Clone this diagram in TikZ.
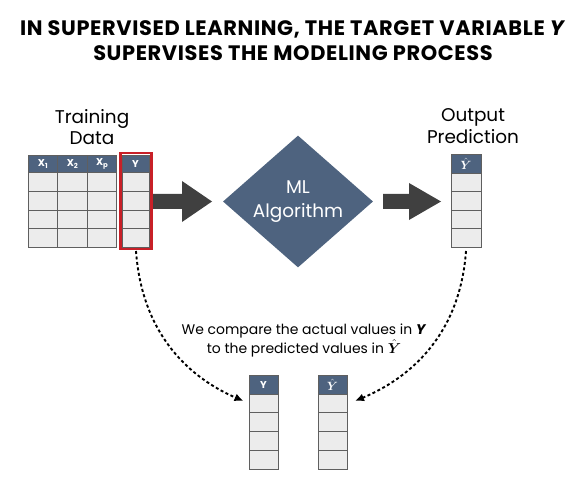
\documentclass[tikz,border=0pt]{standalone}
\usepackage{bm}
\usepackage{fontspec}
\setmainfont{Poppins}
\usetikzlibrary{shapes.geometric,arrows.meta}
\definecolor{headblue}{RGB}{78,99,127}
\definecolor{cellfill}{RGB}{236,236,236}
\definecolor{cellline}{RGB}{95,95,95}
\definecolor{blockarrow}{RGB}{64,64,64}
\definecolor{redbox}{RGB}{200,32,40}
\tikzset{
  cell/.style={draw=cellline, line width=0.8bp, fill=cellfill, inner sep=0, outer sep=0, anchor=north west},
  headcell/.style={cell, fill=headblue, text=white, font=\fontsize{10}{11}\selectfont\bfseries},
  label/.style={align=center, font=\fontsize{18.5}{21.5}\selectfont},
  dashconn/.style={line width=1.9bp, dash pattern=on 3bp off 2.5bp, -{Latex[length=9bp,width=8bp]}},
}
\newcommand{\xs}[1]{X\raisebox{-0.35ex}{\fontsize{7}{8}\selectfont #1}}
\newcommand{\yhead}{\fontsize{13}{14}\selectfont$\bm{\hat{Y}}$}
\begin{document}
\begin{tikzpicture}[x=1bp,y=-1bp]
\useasboundingbox (0,0) rectangle (586,485);
% title
\node[align=center, font=\fontsize{21}{25}\selectfont\bfseries\addfontfeature{LetterSpace=3}] (title) at (293,41)
  {IN SUPERVISED LEARNING, THE TARGET VARIABLE \textit{Y}\\SUPERVISES THE MODELING PROCESS};
% labels
\node[label] (trlab) at (92,127) {Training\\Data};
\node[label] (outlab) at (473,126) {Output\\Prediction};
% training table X columns
\foreach \c/\t [count=\i] in {0/\xs{1},1/\xs{2},2/\xs{p}} {
  \node[headcell, minimum width=29.6bp, minimum height=17.5bp] (tx\i-0) at (28+29.6*\c,155) {\t};
  \foreach \r in {1,...,4}
    \node[cell, minimum width=29.6bp, minimum height=18.75bp] (tx\i-\r) at (28+29.6*\c,172.5+18.75*\r-18.75) {};
}
% training Y column
\node[headcell, minimum width=27bp, minimum height=17.5bp] (ty-0) at (122,155) {Y};
\foreach \r in {1,...,4}
  \node[cell, minimum width=27bp, minimum height=18.75bp] (ty-\r) at (122,172.5+18.75*\r-18.75) {};
\draw[redbox, line width=2.6bp] (120.3,153) rectangle (151.7,248.8);
\coordinate (tyout) at (136,251);
% block arrow 1
\fill[blockarrow] (153,194) -- (182,194) -- (182,181) -- (212,201.5) -- (182,222) -- (182,209) -- (153,209) -- cycle;
% diamond
\node[diamond, fill=headblue, minimum width=150bp, minimum height=121bp, inner sep=0, text=white,
      align=center, font=\fontsize{18.5}{24}\selectfont] (ml) at (298,201.5) {ML\\Algorithm};
% block arrow 2
\fill[blockarrow] (383,194) -- (409,194) -- (409,183) -- (441,201.5) -- (409,220) -- (409,209) -- (383,209) -- cycle;
% output table
\node[headcell, minimum width=30bp, minimum height=18.5bp] (oy-0) at (451,154.5) {\yhead};
\foreach \r in {1,...,4}
  \node[cell, minimum width=30bp, minimum height=18.6bp] (oy-\r) at (451,173+18.6*\r-18.6) {};
\coordinate (oyout) at (466,251);
% bottom tables
\node[headcell, minimum width=29bp, minimum height=19bp] (by-0) at (249,375) {Y};
\foreach \r in {1,...,4}
  \node[cell, minimum width=29bp, minimum height=18.75bp] (by-\r) at (249,394+18.75*\r-18.75) {};
\node[headcell, minimum width=29bp, minimum height=19bp] (bh-0) at (318,375) {\yhead};
\foreach \r in {1,...,4}
  \node[cell, minimum width=29bp, minimum height=18.75bp] (bh-\r) at (318,394+18.75*\r-18.75) {};
\coordinate (byin) at (243.5,401);
\coordinate (bhin) at (355,401);
% caption
\node[align=center, font=\fontsize{14}{16.5}\selectfont] (cap) at (304,340.5)
  {We compare the actual values in \textbf{\textit{Y}}\\to the predicted values in $\bm{\hat{Y}}$};
% dashed connectors
\draw[dashconn] (tyout) .. controls (142,335) and (190,378) .. (byin);
\draw[dashconn] (oyout) .. controls (460,335) and (410,378) .. (bhin);
\end{tikzpicture}
\end{document}
